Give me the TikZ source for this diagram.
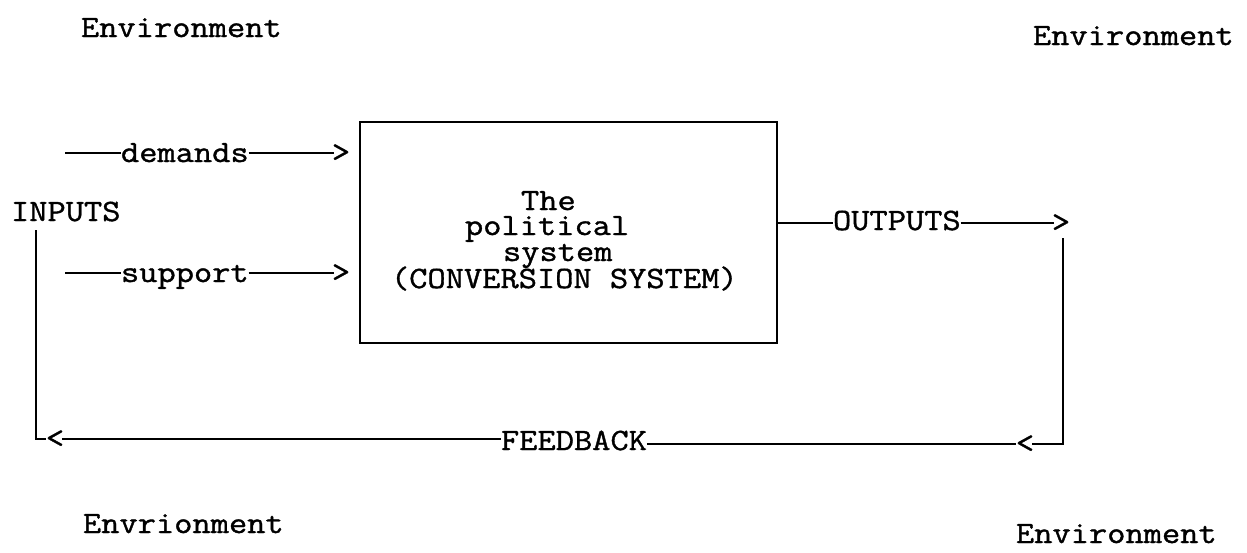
\documentclass[tikz,border=0pt]{standalone}
\usepackage{fontspec}
\newfontfamily\typewriter{Latin Modern Mono}[FakeStretch=1.143,FakeBold=1.2]
\begin{document}
\begin{tikzpicture}[x=1pt,y=-1pt,
  every node/.style={inner sep=0pt, outer sep=0pt},
  mono/.style={font=\typewriter\fontsize{31}{36}\selectfont},
  txt/.style={mono, anchor=base west},
  tip/.style={mono, anchor=center},
  wire/.style={line width=1.8pt, line cap=butt},
  sysbox/.style={draw, line width=1.8pt, rectangle,
                 minimum width=417pt, minimum height=221pt}
]
\useasboundingbox (0,0) rectangle (1247,552);

% corner labels
\node[txt] (envTL) at (81,37)   {Environment};
\node[txt] (envTR) at (1033,45) {Environment};
\node[txt] (envBL) at (83,533)  {Envrionment};
\node[txt] (envBR) at (1016,543){Environment};

% the conversion system
\node[sysbox] (box) at (568.5,232.5) {};
\node[txt] (sys1) at (521,210) {The};
\node[txt] (sys2) at (465,235) {political};
\node[txt] (sys3) at (503,261) {system};
\node[txt] (sys4) at (391,288) {(CONVERSION SYSTEM)};

% inputs
\node[txt] (inputs)  at (11,221)  {INPUTS};
\node[txt] (demands) at (121,162) {demands};
\node[txt] (support) at (121,282) {support};
\node[tip] (dtip) at (341,153) {>};
\node[tip] (stip) at (341,273) {>};
\coordinate (dstart) at (65,153);
\coordinate (sstart) at (65,273);

\draw[wire] (dstart) -- (demands.west |- dtip);
\draw[wire] (demands.east |- dtip) -- ([xshift=2pt]dtip.west);
\draw[wire] (sstart) -- (support.west |- stip);
\draw[wire] (support.east |- stip) -- ([xshift=2pt]stip.west);

% outputs
\node[txt] (outputs) at (833,230) {OUTPUTS};
\node[tip] (otip) at (1061,223) {>};
\draw[wire] (box.east |- otip) -- (outputs.west |- otip);
\draw[wire] (outputs.east |- otip) -- ([xshift=2pt]otip.west);

% feedback loop
\node[txt] (feedback) at (501,450) {FEEDBACK};
\node[tip] (fbL) at (55,439)   {<};
\node[tip] (fbR) at (1025,444) {<};
\coordinate (inTop)  at (36,230);
\coordinate (outTop) at (1063,238);

\draw[wire] (inTop) |- (fbL.west);
\draw[wire] ([xshift=-2pt]fbL.east) -- (feedback.west |- fbL);
\draw[wire] (feedback.east |- fbR) -- (fbR.west);
\draw[wire] ([xshift=-2pt]fbR.east) -| (outTop);
\end{tikzpicture}
\end{document}
